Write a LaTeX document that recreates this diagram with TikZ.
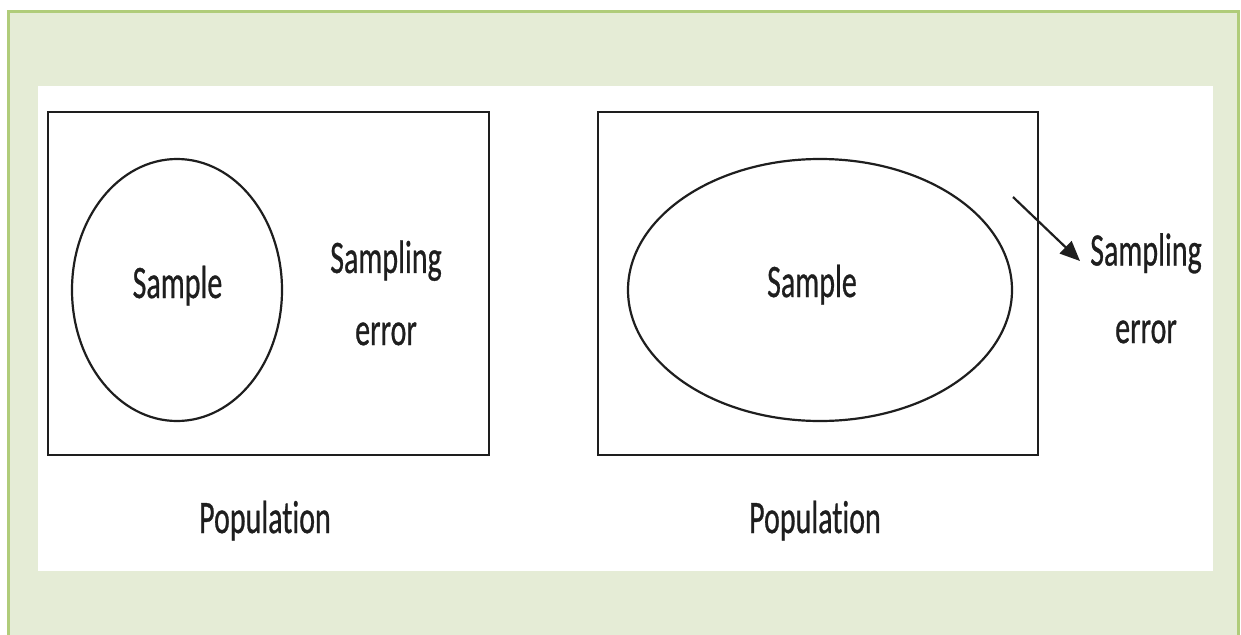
\documentclass[tikz,border=0pt]{standalone}
\usepackage{fontspec}
\usepackage{graphicx}
\setmainfont{Carlito}[Ligatures=NoCommon,RawFeature={embolden=0.8}]
\usetikzlibrary{arrows.meta}
\definecolor{panelgreen}{RGB}{229,236,214}
\definecolor{framegreen}{RGB}{176,204,122}
\definecolor{ink}{RGB}{30,30,30}
% tall lettering: normal width, stretched height
\newcommand\tallText[1]{\scalebox{1}[1.55]{#1}}
\newcommand\twoLines[3]{\tallText{\fontsize{30}{#3}\selectfont\begin{tabular}[b]{@{}c@{}}#1\\#2\end{tabular}}}
\begin{document}
\begin{tikzpicture}[x=1pt,y=-1pt,
  frame/.style={draw=ink,line width=2.2pt},
  label/.style={font=\fontsize{30}{36}\selectfont,text=ink,inner sep=0pt,anchor=base}]
\useasboundingbox (0,0) rectangle (1241,634);
% outer page and panel
\fill[white] (0,0) rectangle (1241,634);
\filldraw[fill=panelgreen,draw=framegreen,line width=3pt] (8.5,11.5) rectangle (1238.5,640);
\fill[white] (38,86) rectangle (1213,571);
% left: small sample
\node[frame,rectangle,minimum width=441pt,minimum height=343pt,inner sep=0pt] (popL) at (268.5,283.5) {};
\draw[frame] (177,290) ellipse [x radius=105, y radius=131];
\node[label] (sampleL) at (177.5,298) {\tallText{Sample}};
\node[label] (errL) at (386,345) {\twoLines{Sampling}{error}{46.5}};
\node[label] (popLabelL) at (265,533) {\tallText{Population}};
% right: large sample
\node[frame,rectangle,minimum width=440pt,minimum height=343pt,inner sep=0pt] (popR) at (818,283.5) {};
\draw[frame] (820,290) ellipse [x radius=192, y radius=131];
\node[label] (sampleR) at (812,297) {\tallText{Sample}};
\node[label] (errR) at (1146,343) {\twoLines{Sampling}{error}{50}};
\node[label] (popLabelR) at (815,533) {\tallText{Population}};
\coordinate (arrowStart) at (1013,197);
\coordinate (arrowEnd) at (1080,261);
\draw[ink,line width=2.2pt,-{Triangle[length=20pt,width=17pt]}] (arrowStart) -- (arrowEnd);
\end{tikzpicture}
\end{document}
